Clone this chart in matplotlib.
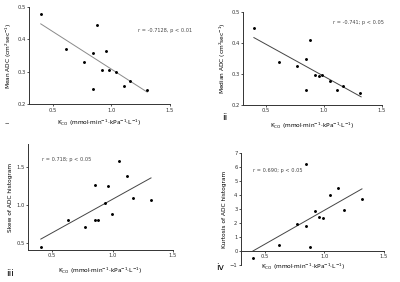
import matplotlib
matplotlib.use("Agg")
import matplotlib.pyplot as plt

plt.rcParams['font.family'] = ['DejaVu Sans']

# ---- data ----
kco1 = [0.40, 0.618, 0.767, 0.846, 0.876, 0.952, 0.924, 0.983, 1.04, 0.846, 1.11, 1.16, 1.306]
mean_adc = [0.479, 0.369, 0.331, 0.357, 0.443, 0.363, 0.305, 0.304, 0.300, 0.246, 0.257, 0.272, 0.242]
fit1_x = [0.40, 1.306]
fit1_y = [0.448, 0.237]

kco2 = [0.394, 0.615, 0.764, 0.848, 0.876, 0.925, 0.954, 0.986, 1.049, 0.848, 1.11, 1.164, 1.313]
median_adc = [0.447, 0.338, 0.327, 0.347, 0.410, 0.296, 0.294, 0.296, 0.277, 0.247, 0.247, 0.261, 0.237]
fit2_x = [0.394, 1.32]
fit2_y = [0.417, 0.226]

kco3 = [0.406, 0.627, 0.775, 0.855, 0.883, 0.853, 0.960, 0.935, 0.993, 1.051, 1.12, 1.169, 1.318]
skew = [0.452, 0.798, 0.711, 0.803, 0.807, 1.268, 1.254, 1.022, 0.877, 1.583, 1.386, 1.092, 1.066]
fit3_x = [0.406, 1.318]
fit3_y = [0.553, 1.355]

kco4 = [0.399, 0.618, 0.767, 0.848, 0.876, 0.848, 0.924, 0.958, 0.986, 1.045, 1.112, 1.163, 1.315]
kurt = [-0.47, 0.45, 1.90, 1.76, 0.31, 6.22, 2.86, 2.42, 2.37, 4.01, 4.48, 2.91, 3.71]
fit4_x = [0.40, 1.315]
fit4_y = [0.0, 4.44]

xticks = [0.5, 1.0, 1.5]
xticklabels = ['0.5', '1.0', '1.5']

xlabel = r'K$_{\rm CO}$ (mmol·min$^{-1}$·kPa$^{-1}$·L$^{-1}$)'

fig = plt.figure(figsize=(4.0, 2.82), dpi=100)

fs_tick = 3.8
fs_lab = 4.2
fs_txt = 3.6
fs_panel = 6.5

def style(ax):
    for s in ['top', 'right']:
        ax.spines[s].set_visible(False)
    for s in ['left', 'bottom']:
        ax.spines[s].set_linewidth(0.7)
        ax.spines[s].set_color('#333333')
    ax.tick_params(labelsize=fs_tick, length=1.5, width=0.6, pad=1, colors='#333333')
    ax.set_xlim(0.3, 1.5)
    ax.set_xticks(xticks)
    ax.set_xticklabels(xticklabels)

# panel i
ax1 = fig.add_axes([0.0725, 0.631, 0.3525, 0.344])
ax1.plot(fit1_x, fit1_y, color='#8a8a8a', lw=0.7)
ax1.scatter(kco1, mean_adc, s=1.2, color='black', zorder=3)
style(ax1)
ax1.set_ylim(0.2, 0.5)
ax1.set_yticks([0.2, 0.3, 0.4, 0.5])
ax1.set_ylabel('Mean ADC (cm$^2$sec$^{-1}$)', fontsize=fs_lab, labelpad=2)
ax1.set_xlabel(xlabel, fontsize=fs_lab, labelpad=4)
ax1.text(1.23, 0.426, 'r = -0.7128, p < 0.01', fontsize=fs_txt, color='#444444', va='center')

# panel ii
ax2 = fig.add_axes([0.6075, 0.628, 0.3475, 0.330])
ax2.plot(fit2_x, fit2_y, color='#444444', lw=0.7)
ax2.scatter(kco2, median_adc, s=1.2, color='black', zorder=3)
style(ax2)
ax2.set_ylim(0.2, 0.5)
ax2.set_yticks([0.2, 0.3, 0.4, 0.5])
ax2.set_ylabel('Median ADC (cm$^2$sec$^{-1}$)', fontsize=fs_lab, labelpad=2)
ax2.set_xlabel(xlabel, fontsize=fs_lab, labelpad=5)
ax2.text(1.08, 0.465, 'r = -0.741; p < 0.05', fontsize=fs_txt, color='#444444', va='center')

# panel iii
ax3 = fig.add_axes([0.07, 0.1135, 0.3625, 0.376])
ax3.plot(fit3_x, fit3_y, color='#444444', lw=0.7)
ax3.scatter(kco3, skew, s=1.2, color='black', zorder=3)
style(ax3)
ax3.set_ylim(0.41, 1.8)
ax3.set_yticks([0.5, 1.0, 1.5])
ax3.set_ylabel('Skew of ADC histogram', fontsize=fs_lab, labelpad=2)
ax3.set_xlabel(xlabel, fontsize=fs_lab, labelpad=5)
ax3.text(0.42, 1.59, 'r = 0.718; p < 0.05', fontsize=fs_txt, color='#444444', va='center')

# panel iv
ax4 = fig.add_axes([0.6025, 0.0603, 0.3575, 0.397])
ax4.plot(fit4_x, fit4_y, color='#444444', lw=0.7)
ax4.scatter(kco4, kurt, s=1.2, color='black', zorder=3)
style(ax4)
ax4.set_ylim(-1, 7)
ax4.set_yticks(list(range(-1, 8)))
ax4.spines['bottom'].set_position(('data', 0))
ax4.set_ylabel('Kurtosis of ADC histogram', fontsize=fs_lab, labelpad=2)
ax4.text(0.40, 5.73, 'r = 0.690; p < 0.05', fontsize=fs_txt, color='#444444', va='center')
fig.text(303 / 400, 1 - 267 / 282, xlabel, fontsize=fs_lab, ha='center', va='center')

# panel labels
fig.text(8 / 400, 1 - 122 / 282, 'i', fontsize=fs_panel * 0.6, rotation=90, ha='center', va='center')
fig.text(225 / 400, 1 - 118 / 282, 'ii', fontsize=fs_panel, ha='center', va='center')
fig.text(10 / 400, 1 - 273 / 282, 'iii', fontsize=fs_panel, ha='center', va='center')
fig.text(220 / 400, 1 - 268 / 282, 'iv', fontsize=fs_panel, ha='center', va='center')

fig.savefig('out.png', dpi=100)
